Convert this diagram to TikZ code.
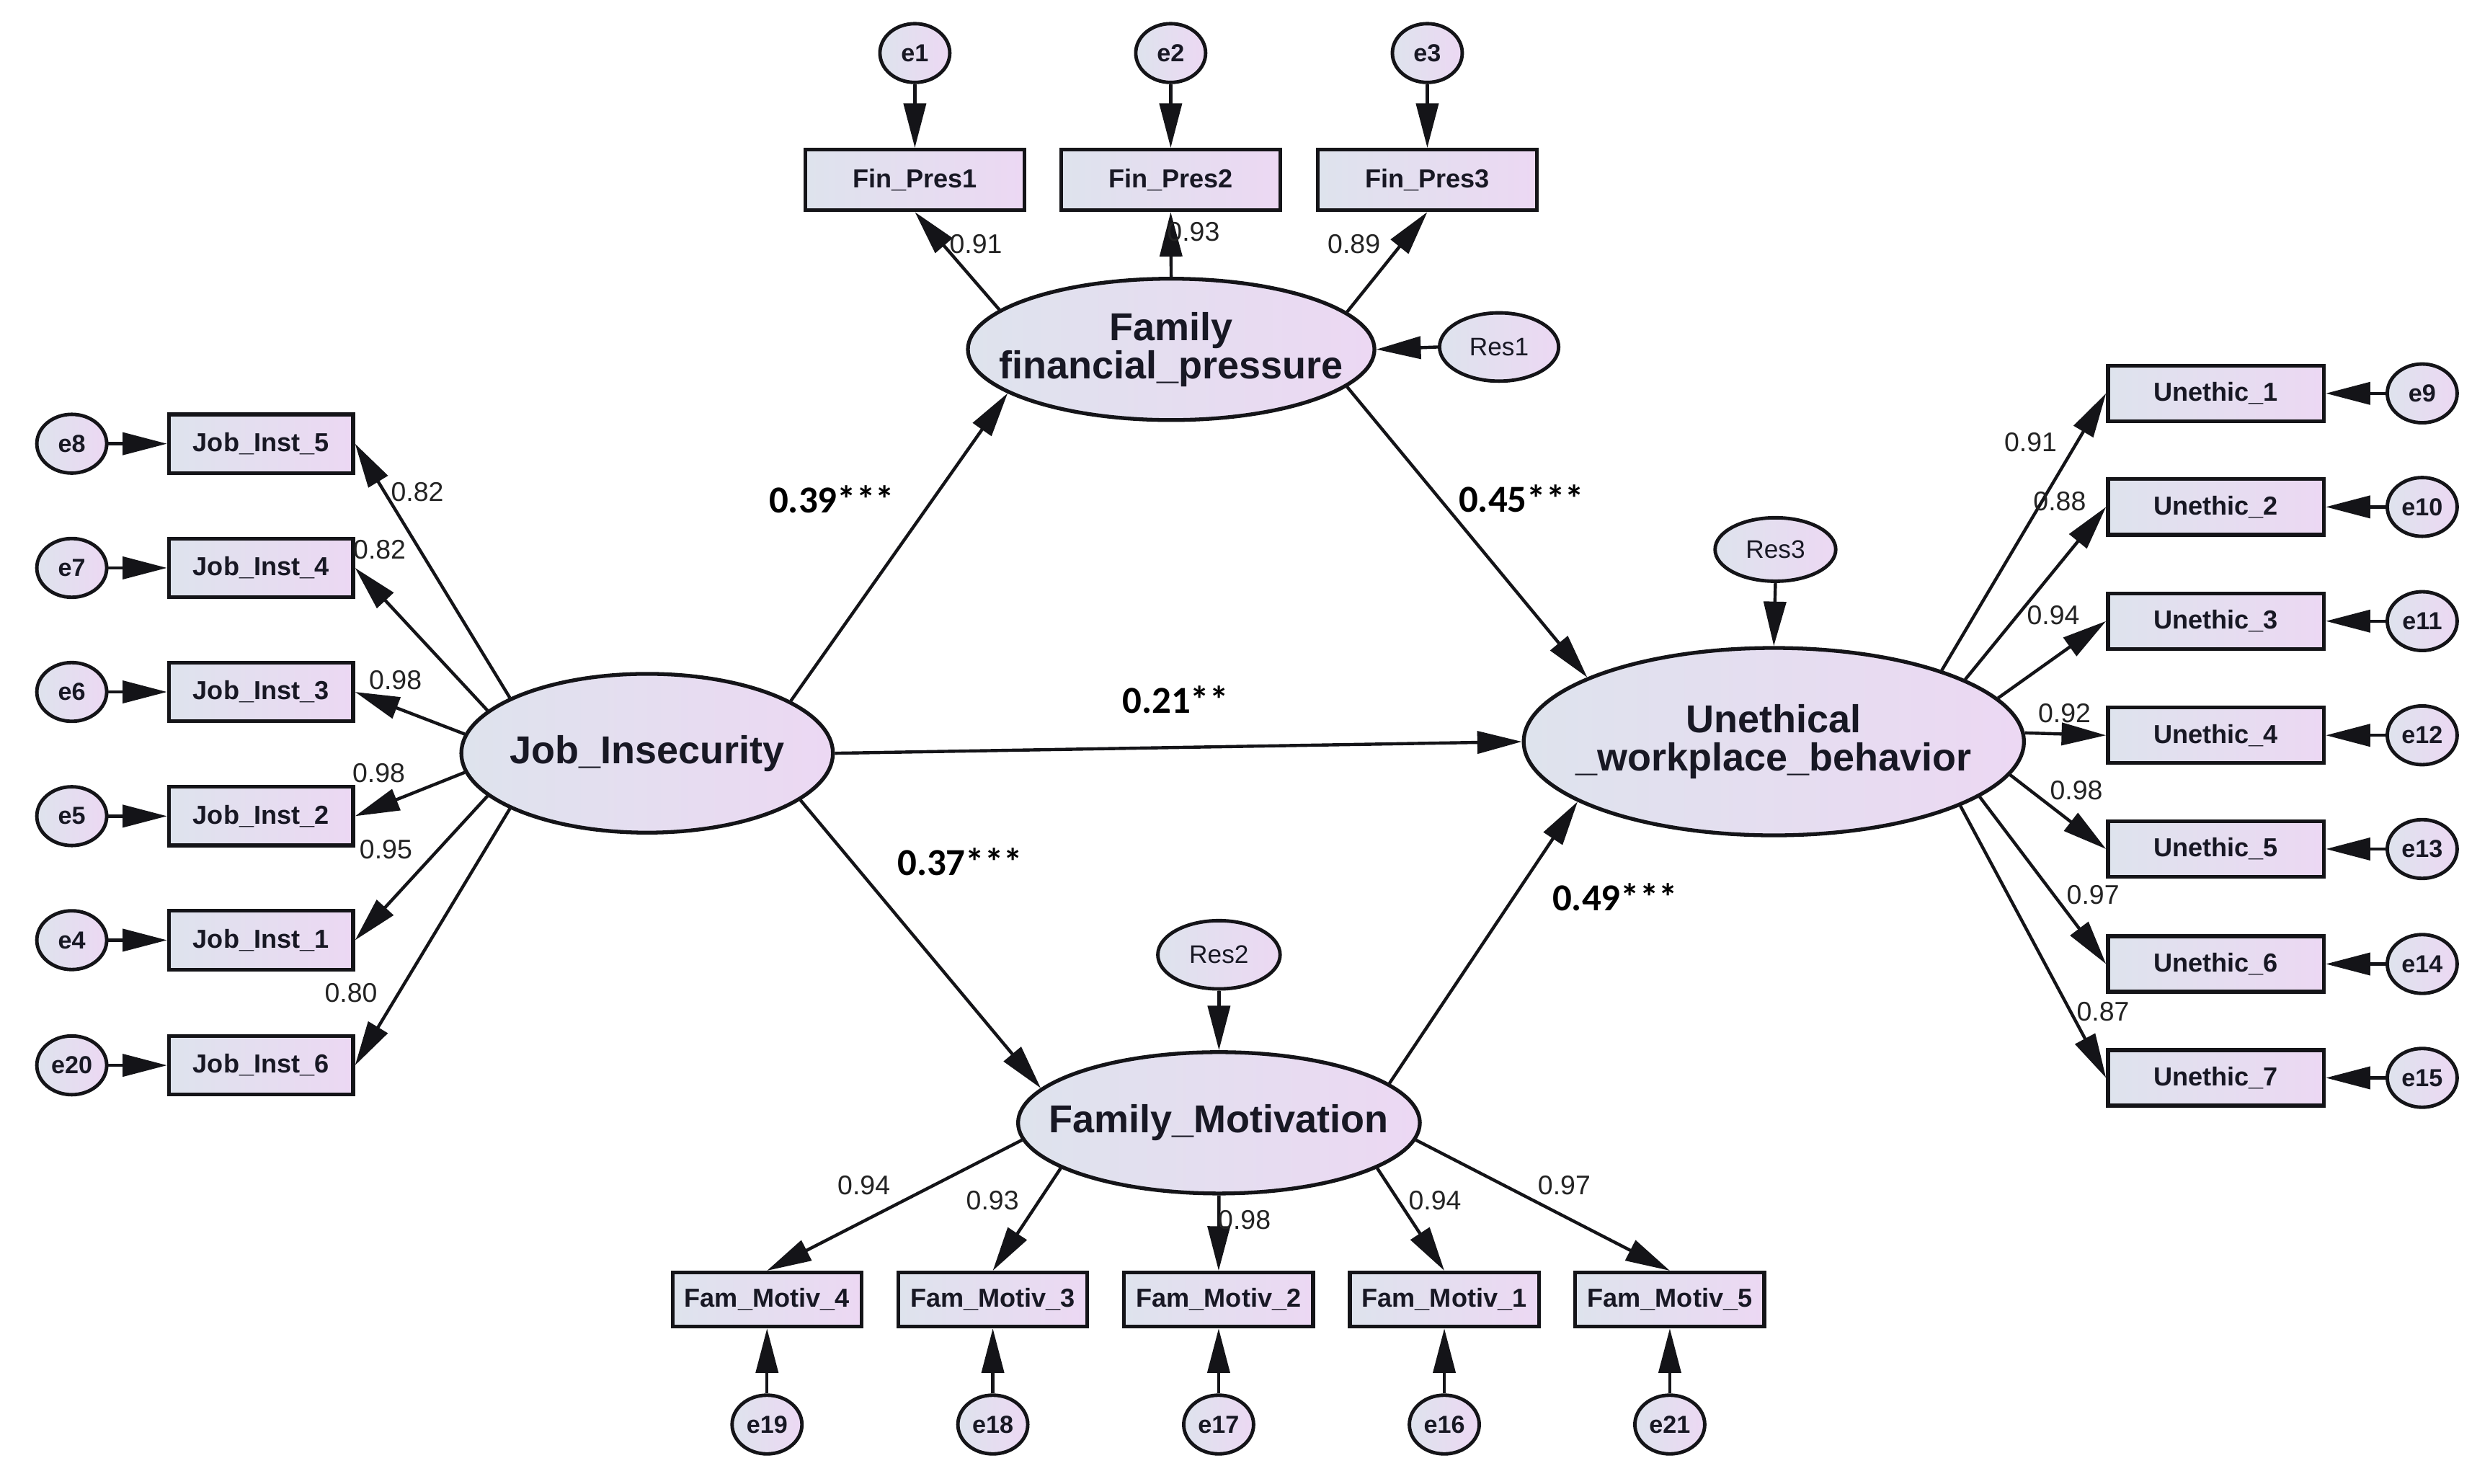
\documentclass[tikz,border=0pt]{standalone}
\usepackage{fontspec}
\setmainfont{Liberation Sans}
\newfontfamily\coeffont{Carlito}
\usetikzlibrary{arrows.meta,shapes.geometric}
\definecolor{gl}{RGB}{222,227,237}
\definecolor{gr}{RGB}{236,216,243}
\definecolor{ink}{RGB}{20,20,24}
\definecolor{txt}{RGB}{24,24,36}
\definecolor{ldc}{RGB}{35,35,35}
\tikzset{
  grad/.style={left color=gl, right color=gr},
  obs/.style={draw=ink, line width=2.4pt, grad, rectangle, inner sep=0pt,
    font=\bfseries\fontsize{16.4}{16.4}\selectfont, text=txt},
  lbox/.style={obs, minimum width=116pt, minimum height=37pt},
  rbox/.style={obs, minimum width=136pt, minimum height=35pt},
  tbox/.style={obs, minimum width=138pt, minimum height=38pt},
  bbox/.style={obs, minimum width=119pt, minimum height=34pt},
  err/.style={draw=ink, line width=2.2pt, grad, ellipse, inner sep=0pt,
    minimum width=44pt, minimum height=37pt,
    font=\bfseries\fontsize{15.5}{15.5}\selectfont, text=txt},
  res/.style={err, minimum width=76pt, minimum height=42pt,
    font=\fontsize{16}{16}\selectfont},
  lat/.style={draw=ink, line width=2.4pt, grad, ellipse, inner sep=0pt},
  lattext/.style={font=\bfseries\fontsize{24.5}{24}\selectfont, align=center, text=txt, inner sep=0pt},
  arr/.style={line width=2pt, draw=ink, -{Triangle[length=28pt,width=14pt]}},
  ld/.style={font=\fontsize{17}{17}\selectfont, text=ldc, inner sep=0pt},
  pc/.style={font=\coeffont\bfseries\fontsize{24}{24}\selectfont, text=black, inner sep=0pt},
}
\begin{document}
\begin{tikzpicture}[x=1pt,y=1pt]
\fill[white] (0,0) rectangle (1568,-934);
\useasboundingbox (0,0) rectangle (1568,-934);

% latent variables
\node[lat, minimum width=256pt, minimum height=89pt,
  label={[lattext]center:{Family\\financial\_pressure}}] (FFP) at (737.5,-220) {};
\node[lat, minimum width=234pt, minimum height=100pt,
  label={[lattext]center:{Job\_Insecurity}}] (JI) at (407.5,-474.3) {};
\node[lat, minimum width=315pt, minimum height=118pt,
  label={[lattext]center:{Unethical\\\_workplace\_behavior}}] (UWB) at (1117,-467) {};
\node[lat, minimum width=253pt, minimum height=89pt,
  label={[lattext]center:{Family\_Motivation}}] (FM) at (767.6,-707) {};

% residuals
\node[res, minimum width=75pt, minimum height=43pt] (R1) at (944,-218.5) {Res1};
\node[res, minimum width=77pt, minimum height=43pt] (R2) at (767.6,-601.2) {Res2};
\node[res, minimum width=76pt, minimum height=40pt] (R3) at (1118,-346) {Res3};

% top indicators
\node[tbox] (F1) at (576.1,-113.3) {Fin\_Pres1};
\node[tbox] (F2) at (737.2,-113.3) {Fin\_Pres2};
\node[tbox] (F3) at (898.8,-113.3) {Fin\_Pres3};
\node[err] (e1) at (576.1,-33.4) {e1};
\node[err] (e2) at (737.2,-33.4) {e2};
\node[err] (e3) at (898.8,-33.4) {e3};

% left indicators
\node[lbox] (J5) at (164.4,-279.4) {Job\_Inst\_5};
\node[lbox] (J4) at (164.4,-357.6) {Job\_Inst\_4};
\node[lbox] (J3) at (164.4,-435.7) {Job\_Inst\_3};
\node[lbox] (J2) at (164.4,-513.9) {Job\_Inst\_2};
\node[lbox] (J1) at (164.4,-592.0) {Job\_Inst\_1};
\node[lbox] (J6) at (164.4,-670.8) {Job\_Inst\_6};
\node[err] (e8) at (45.2,-279.4) {e8};
\node[err] (e7) at (45.2,-357.6) {e7};
\node[err] (e6) at (45.2,-435.7) {e6};
\node[err] (e5) at (45.2,-513.9) {e5};
\node[err] (e4) at (45.2,-592.0) {e4};
\node[err] (e20) at (45.2,-670.8) {e20};

% right indicators
\node[rbox] (U1) at (1395.4,-247.7) {Unethic\_1};
\node[rbox] (U2) at (1395.4,-319.2) {Unethic\_2};
\node[rbox] (U3) at (1395.4,-391.1) {Unethic\_3};
\node[rbox] (U4) at (1395.4,-463.0) {Unethic\_4};
\node[rbox] (U5) at (1395.4,-534.6) {Unethic\_5};
\node[rbox] (U6) at (1395.4,-607.0) {Unethic\_6};
\node[rbox] (U7) at (1395.4,-678.7) {Unethic\_7};
\node[err] (e9) at (1525.3,-247.7) {e9};
\node[err] (e10) at (1525.3,-319.2) {e10};
\node[err] (e11) at (1525.3,-391.1) {e11};
\node[err] (e12) at (1525.3,-463.0) {e12};
\node[err] (e13) at (1525.3,-534.6) {e13};
\node[err] (e14) at (1525.3,-607.0) {e14};
\node[err] (e15) at (1525.3,-678.7) {e15};

% bottom indicators
\node[bbox] (M4) at (483.0,-818.3) {Fam\_Motiv\_4};
\node[bbox] (M3) at (625.2,-818.3) {Fam\_Motiv\_3};
\node[bbox] (M2) at (767.4,-818.3) {Fam\_Motiv\_2};
\node[bbox] (M1) at (909.5,-818.3) {Fam\_Motiv\_1};
\node[bbox] (M5) at (1051.5,-818.3) {Fam\_Motiv\_5};
\node[err] (e19) at (483.0,-897) {e19};
\node[err] (e18) at (625.2,-897) {e18};
\node[err] (e17) at (767.4,-897) {e17};
\node[err] (e16) at (909.5,-897) {e16};
\node[err] (e21) at (1051.5,-897) {e21};

% error arrows
\foreach \e/\b in {e1/F1,e2/F2,e3/F3}
  \draw[arr] (\e.south) -- (\b.north);
\foreach \e/\b in {e8/J5,e7/J4,e6/J3,e5/J2,e4/J1,e20/J6}
  \draw[arr] (\e.east) -- (\b.west);
\foreach \e/\b in {e9/U1,e10/U2,e11/U3,e12/U4,e13/U5,e14/U6,e15/U7}
  \draw[arr] (\e.west) -- (\b.east);
\foreach \e/\b in {e19/M4,e18/M3,e17/M2,e16/M1,e21/M5}
  \draw[arr] (\e.north) -- (\b.south);
\draw[arr] (R1.west) -- (FFP.east);
\draw[arr] (R2.south) -- (FM.north);
\draw[arr] (R3.south) -- (UWB.north);

% loadings
\draw[arr] (FFP.167.6) -- (F1.south);
\draw[arr] (FFP.north) -- (F2.south);
\draw[arr] (FFP.12.4) -- (F3.south);
\draw[arr] (JI.158.1) -- (J5.east);
\draw[arr] (JI.165.3) -- (J4.east);
\draw[arr] (JI.174.3) -- (J3.east);
\draw[arr] (JI.186.3) -- (J2.east);
\draw[arr] (JI.195.3) -- (J1.east);
\draw[arr] (JI.202.3) -- (J6.east);
\draw[arr] (UWB.23.6) -- (U1.west);
\draw[arr] (UWB.18.4) -- (U2.west);
\draw[arr] (UWB.11.5) -- (U3.west);
\draw[arr] (UWB.2) -- (U4.west);
\draw[arr] (UWB.-8) -- (U5.west);
\draw[arr] (UWB.-15) -- (U6.west);
\draw[arr] (UWB.-19.4) -- (U7.west);
\draw[arr] (FM.185.6) -- (M4.north);
\draw[arr] (FM.196.2) -- (M3.north);
\draw[arr] (FM.south) -- (M2.north);
\draw[arr] (FM.-16) -- (M1.north);
\draw[arr] (FM.-5.5) -- (M5.north);

% structural paths
\draw[arr] (JI.20) -- (FFP.195.3);
\draw[arr] (JI.0) -- (UWB.180);
\draw[arr] (JI.-17.5) -- (FM.169.3);
\draw[arr] (FFP.-12.9) -- (UWB.161.9);
\draw[arr] (FM.13.7) -- (UWB.197.7);

% loading labels
\node[ld] (l1) at (614.5,-153.5) {0.91};
\node[ld] (l2) at (751.5,-146) {0.93};
\node[ld] (l3) at (852.6,-153.5) {0.89};
\node[ld] (l4) at (262.8,-309.8) {0.82};
\node[ld] (l5) at (239,-346) {0.82};
\node[ld] (l6) at (249,-428.4) {0.98};
\node[ld] (l7) at (238.5,-487) {0.98};
\node[ld] (l8) at (243,-534.8) {0.95};
\node[ld] (l9) at (221,-625.3) {0.80};
\node[ld] (l10) at (1278.7,-278.3) {0.91};
\node[ld] (l11) at (1297,-315.7) {0.88};
\node[ld] (l12) at (1293,-387.3) {0.94};
\node[ld] (l13) at (1300,-448.9) {0.92};
\node[ld] (l14) at (1307.5,-497.5) {0.98};
\node[ld] (l15) at (1318,-563.7) {0.97};
\node[ld] (l16) at (1324.3,-637) {0.87};
\node[ld] (l17) at (544,-746.2) {0.94};
\node[ld] (l18) at (625,-756) {0.93};
\node[ld] (l19) at (783.6,-768) {0.98};
\node[ld] (l20) at (903.6,-756) {0.94};
\node[ld] (l21) at (985,-746.2) {0.97};

% path coefficients
\node[pc] (p1) at (523.7,-314.5) {0.39***};
\node[pc] (p2) at (958,-313.8) {0.45***};
\node[pc] (p3) at (740.2,-440.4) {0.21**};
\node[pc] (p4) at (604.5,-542.8) {0.37***};
\node[pc] (p5) at (1017,-564.7) {0.49***};
\end{tikzpicture}
\end{document}
